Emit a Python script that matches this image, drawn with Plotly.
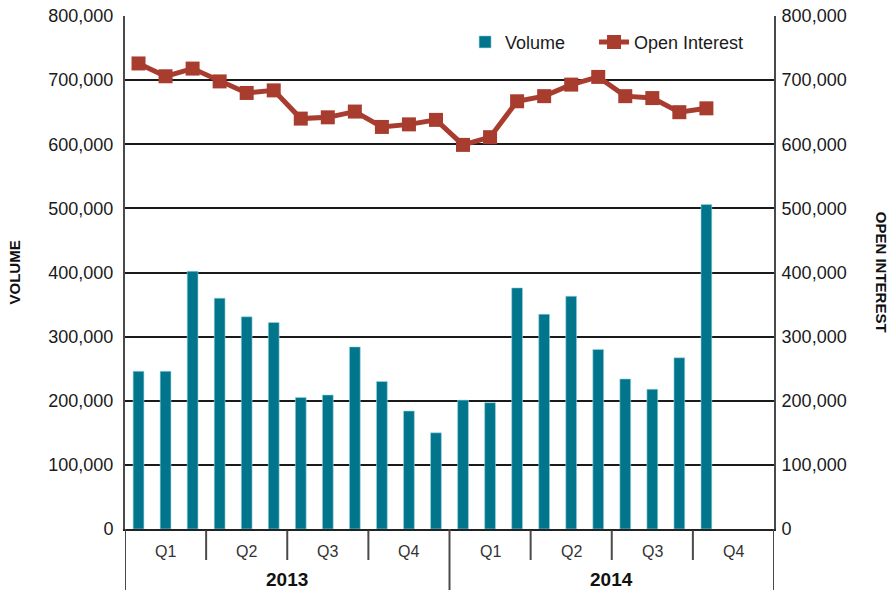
import plotly.graph_objects as go

# ---------------- data ----------------
years = ["2013", "2014"]
quarters = ["Q1", "Q2", "Q3", "Q4"]
months_per_quarter = 3

volume = [246000, 246000, 402000, 360000, 331000, 322000, 205000, 209000,
          284000, 230000, 184000, 150000,
          201000, 197000, 376000, 335000, 363000, 280000, 234000, 218000,
          267000, 506000]
open_interest = [726000, 706000, 718000, 698000, 680000, 684000, 640000, 642000,
                 651000, 627000, 631000, 638000,
                 599000, 611000, 667000, 675000, 693000, 705000, 675000, 672000,
                 650000, 656000]

y_ticks = [0, 100000, 200000, 300000, 400000, 500000, 600000, 700000, 800000]

# ---------------- derived positions ----------------
n_slots = len(years) * len(quarters) * months_per_quarter
x_bar = list(range(len(volume)))
x_line = list(range(len(open_interest)))

FONT = "Liberation Sans, Arial, sans-serif"
TEAL = "#00758C"
RED = "#A83C2F"
GRID = "#1a1a1a"
AXIS = "#4a4a4a"
TXT = "#1a1a1a"

fig = go.Figure()
fig.add_trace(go.Bar(
    x=x_bar, y=volume, name="Volume", width=0.4,
    marker=dict(color=TEAL, line=dict(color="#9fd6e0", width=0.6)),
    yaxis="y", legend="legend", showlegend=True,
))
fig.add_trace(go.Scatter(
    x=x_line, y=open_interest, name="Open Interest", mode="lines+markers",
    line=dict(color=RED, width=5),
    marker=dict(symbol="square", size=14, color=RED),
    yaxis="y2", legend="legend2", showlegend=True,
))

# category axis decorations (quarters / years)
shapes = []
annotations = []
q_len = months_per_quarter
y_len = len(quarters) * months_per_quarter
for yi, yr in enumerate(years):
    start = yi * y_len - 0.5
    annotations.append(dict(
        x=start + y_len / 2, y=-0.098, xref="x", yref="paper", text=f"<b>{yr}</b>",
        showarrow=False, font=dict(family=FONT, size=19, color="#111"),
        xanchor="center", yanchor="middle"))
    for qi, q in enumerate(quarters):
        qs = start + qi * q_len
        annotations.append(dict(
            x=qs + q_len / 2, y=-0.0447, xref="x", yref="paper", text=q,
            showarrow=False, font=dict(family=FONT, size=16, color="#333"),
            xanchor="center", yanchor="middle"))
        if qi > 0:
            shapes.append(dict(type="line", xref="x", yref="paper",
                               x0=qs, x1=qs, y0=-0.003, y1=-0.0605,
                               line=dict(color=AXIS, width=2)))
for b in range(len(years) + 1):
    xb = b * y_len - 0.5
    shapes.append(dict(type="line", xref="x", yref="paper",
                       x0=xb, x1=xb, y0=0, y1=-0.13,
                       line=dict(color=AXIS, width=2)))

annotations.append(dict(
    x=-0.1695, y=0.5, xref="paper", yref="paper", text="<b>VOLUME</b>",
    textangle=-90, showarrow=False, font=dict(family=FONT, size=15, color="#111"),
    xanchor="center", yanchor="middle"))
annotations.append(dict(
    x=1.166, y=0.5, xref="paper", yref="paper", text="<b>OPEN INTEREST</b>",
    textangle=90, showarrow=False, font=dict(family=FONT, size=15, color="#111"),
    xanchor="center", yanchor="middle"))

legend_style = dict(orientation="h", xanchor="left", y=0.985, yanchor="top",
                    bgcolor="rgba(0,0,0,0)", visible=True,
                    font=dict(family=FONT, size=18, color=TXT))

fig.update_layout(
    width=891, height=590,
    margin=dict(l=125, r=117, t=16, b=61),
    paper_bgcolor="white", plot_bgcolor="white",
    font=dict(family=FONT, size=18, color=TXT),
    showlegend=True,
    xaxis=dict(range=[-0.5, n_slots - 0.5], showticklabels=False, ticks="",
               showgrid=False, zeroline=False, showline=True, automargin=False,
               linecolor="#222", linewidth=2, fixedrange=True),
    yaxis=dict(range=[0, 800000], tickvals=y_ticks, tickformat=",",
               showgrid=True, gridcolor=GRID, gridwidth=1.5, automargin=False,
               zeroline=False, showline=True, linecolor=AXIS, linewidth=2,
               ticks="", ticklabelstandoff=6, ticklabeloverflow="allow",
               tickfont=dict(family=FONT, size=18, color=TXT)),
    yaxis2=dict(range=[0, 800000], tickvals=y_ticks, tickformat=",",
                overlaying="y", side="right", showgrid=False, zeroline=False,
                showline=True, linecolor=AXIS, linewidth=2, ticks="",
                ticklabelstandoff=2, automargin=False, ticklabeloverflow="allow",
                tickfont=dict(family=FONT, size=18, color=TXT)),
    legend=dict(x=0.524, **legend_style),
    legend2=dict(x=0.7227, **legend_style),
    shapes=shapes, annotations=annotations,
)

# remove the browser's default 8px page margin so the figure fills the window
fig.write_html("out.html",
               config={"displayModeBar": False},
               post_script="document.body.style.margin='0';"
                           "document.body.style.overflow='hidden';")
